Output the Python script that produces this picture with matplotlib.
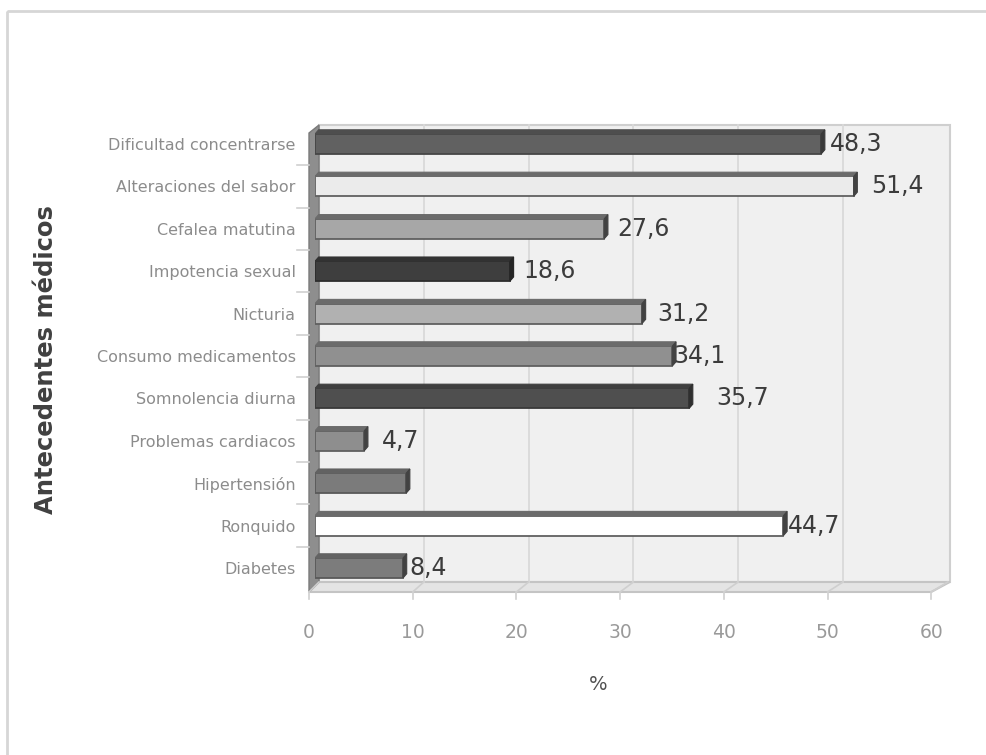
import numpy as np
import matplotlib
matplotlib.use("Agg")
import matplotlib.pyplot as plt
from matplotlib.patches import Polygon, Rectangle
from matplotlib.colors import to_rgb

# datos (de arriba hacia abajo)
categorias = ["Dificultad concentrarse", "Alteraciones del sabor", "Cefalea matutina",
              "Impotencia sexual", "Nicturia", "Consumo medicamentos", "Somnolencia diurna",
              "Problemas cardiacos", "Hipertensión", "Ronquido", "Diabetes"]
valores = [48.3, 51.4, 27.6, 18.6, 31.2, 34.1, 35.7, 4.7, 8.7, 44.7, 8.4]
etiquetas = ["48,3", "51,4", "27,6", "18,6", "31,2", "34,1", "35,7", "4,7", None, "44,7", "8,4"]
colores = ["#616161", "#ebebeb", "#a7a7a7", "#3e3e3e", "#b1b1b1", "#909090",
           "#4f4f4f", "#8e8e8e", "#7b7b7b", "#ffffff", "#7c7c7c"]
# separación de cada etiqueta respecto al extremo de la barra (en unidades de %)
sep_etiqueta = [0.3, 1.1, 0.7, 0.7, 0.9, -0.5, 2.0, 1.1, 0.0, -0.1, 0.1]
ticks_x = [0, 10, 20, 30, 40, 50, 60]

W, H = 986, 755
fig = plt.figure(figsize=(W / 100, H / 100), dpi=100)


def ejes_px(x, y, w, h, **kw):
    return fig.add_axes([x / W, 1 - (y + h) / H, w / W, h / H], **kw)


# capa de fondo en pixeles: marco, paredes y suelo del grafico 3D
bg = ejes_px(0, 0, W, H)
bg.set_xlim(0, W)
bg.set_ylim(H, 0)
bg.axis("off")
bg.add_patch(Rectangle((7, 11), W, H, fill=False, ec="#d6d6d6", lw=2))

esc = 10.48          # px por unidad en el plano de las barras
esc_f = 10.37        # px por unidad en el borde frontal del suelo
x0 = 315             # origen de las barras
xb, yb_top, yb_bot = x0 + 4, 125, 582   # pared del fondo
xf, yf = 309, 592                        # borde frontal del suelo

bg.add_patch(Rectangle((xb, yb_top), 60 * esc + 2, yb_bot - yb_top, fc="#f0f0f0",
                       ec="#cfcfcf", lw=1.5))
for t in ticks_x[1:-1]:
    bg.plot([xb + t * esc, xb + t * esc], [yb_top, yb_bot], color="#d9d9d9", lw=1.3)

# suelo
bg.add_patch(Polygon([(xb, yb_bot), (xb + 60 * esc + 2, yb_bot), (xf + 60 * esc_f, yf), (xf, yf)],
                     closed=True, fc="#e4e4e4", ec="#c4c4c4", lw=1.5))
for t in ticks_x:
    bg.plot([xb + t * esc, xf + t * esc_f], [yb_bot, yf], color="#cfcfcf", lw=1.2)
    bg.plot([xf + t * esc_f, xf + t * esc_f], [yf, yf + 7], color="#d0d0d0", lw=1.2)
    bg.text(xf + t * esc_f, 632, str(t), ha="center", va="center", fontsize=13.5,
            color="#9a9a9a")

# pared izquierda
bg.add_patch(Polygon([(xb, yb_top), (xb, yb_bot), (xf, yf), (xf, yb_top + 8)],
                     closed=True, fc="#8e8e8e", ec="#7a7a7a", lw=1))

# ejes de datos
ax = ejes_px(x0, 122.8, 60 * esc, 466.4)
ax.patch.set_alpha(0)
ax.set_xlim(0, 60)
ax.set_ylim(len(categorias) - 0.5, -0.5)
for s in ax.spines.values():
    s.set_visible(False)
ax.set_xticks([])
ax.set_yticks(range(len(categorias)))
ax.set_yticklabels(categorias, fontsize=11.5, color="#8c8c8c")
ax.tick_params(axis="y", length=0, pad=14)

# marcas de categoria a la izquierda de la pared
for i in range(1, len(categorias)):
    ax.plot([-1.7, -0.6], [i - 0.5, i - 0.5], color="#d0d0d0", lw=1.2, clip_on=False)

alto = 0.47
dx, dy = 0.35, 0.1
for i, (v, c) in enumerate(zip(valores, colores)):
    rgb = np.array(to_rgb(c))
    sup = np.minimum(rgb * 0.8, 0.42)
    lado = np.minimum(rgb * 0.6, 0.26)
    ax.barh(i, v, height=alto, color=c, edgecolor=sup * 0.9, linewidth=1.3, zorder=3)
    y1, y2 = i - alto / 2, i + alto / 2
    ax.add_patch(Polygon([(0, y1), (v, y1), (v + dx, y1 - dy), (dx, y1 - dy)],
                         closed=True, fc=sup, ec=sup, lw=0.8, zorder=4))
    ax.add_patch(Polygon([(v, y1), (v + dx, y1 - dy), (v + dx, y2 - dy), (v, y2)],
                         closed=True, fc=lado, ec=lado, lw=0.8, zorder=4))

for i, (v, lab) in enumerate(zip(valores, etiquetas)):
    if lab is None:
        continue
    ax.text(v + dx + sep_etiqueta[i] + 0.2, i, lab, ha="left", va="center",
            fontsize=17, color="#3c3c3c", zorder=5, clip_on=False)

fig.text(46 / W, 1 - 360 / H, "Antecedentes médicos", rotation=90, ha="center",
         va="center", fontsize=17.5, fontweight="bold", color="#404040")
fig.text(598 / W, 1 - 684 / H, "%", ha="center", va="center", fontsize=14,
         color="#505050")

fig.savefig("out.png", dpi=100)
